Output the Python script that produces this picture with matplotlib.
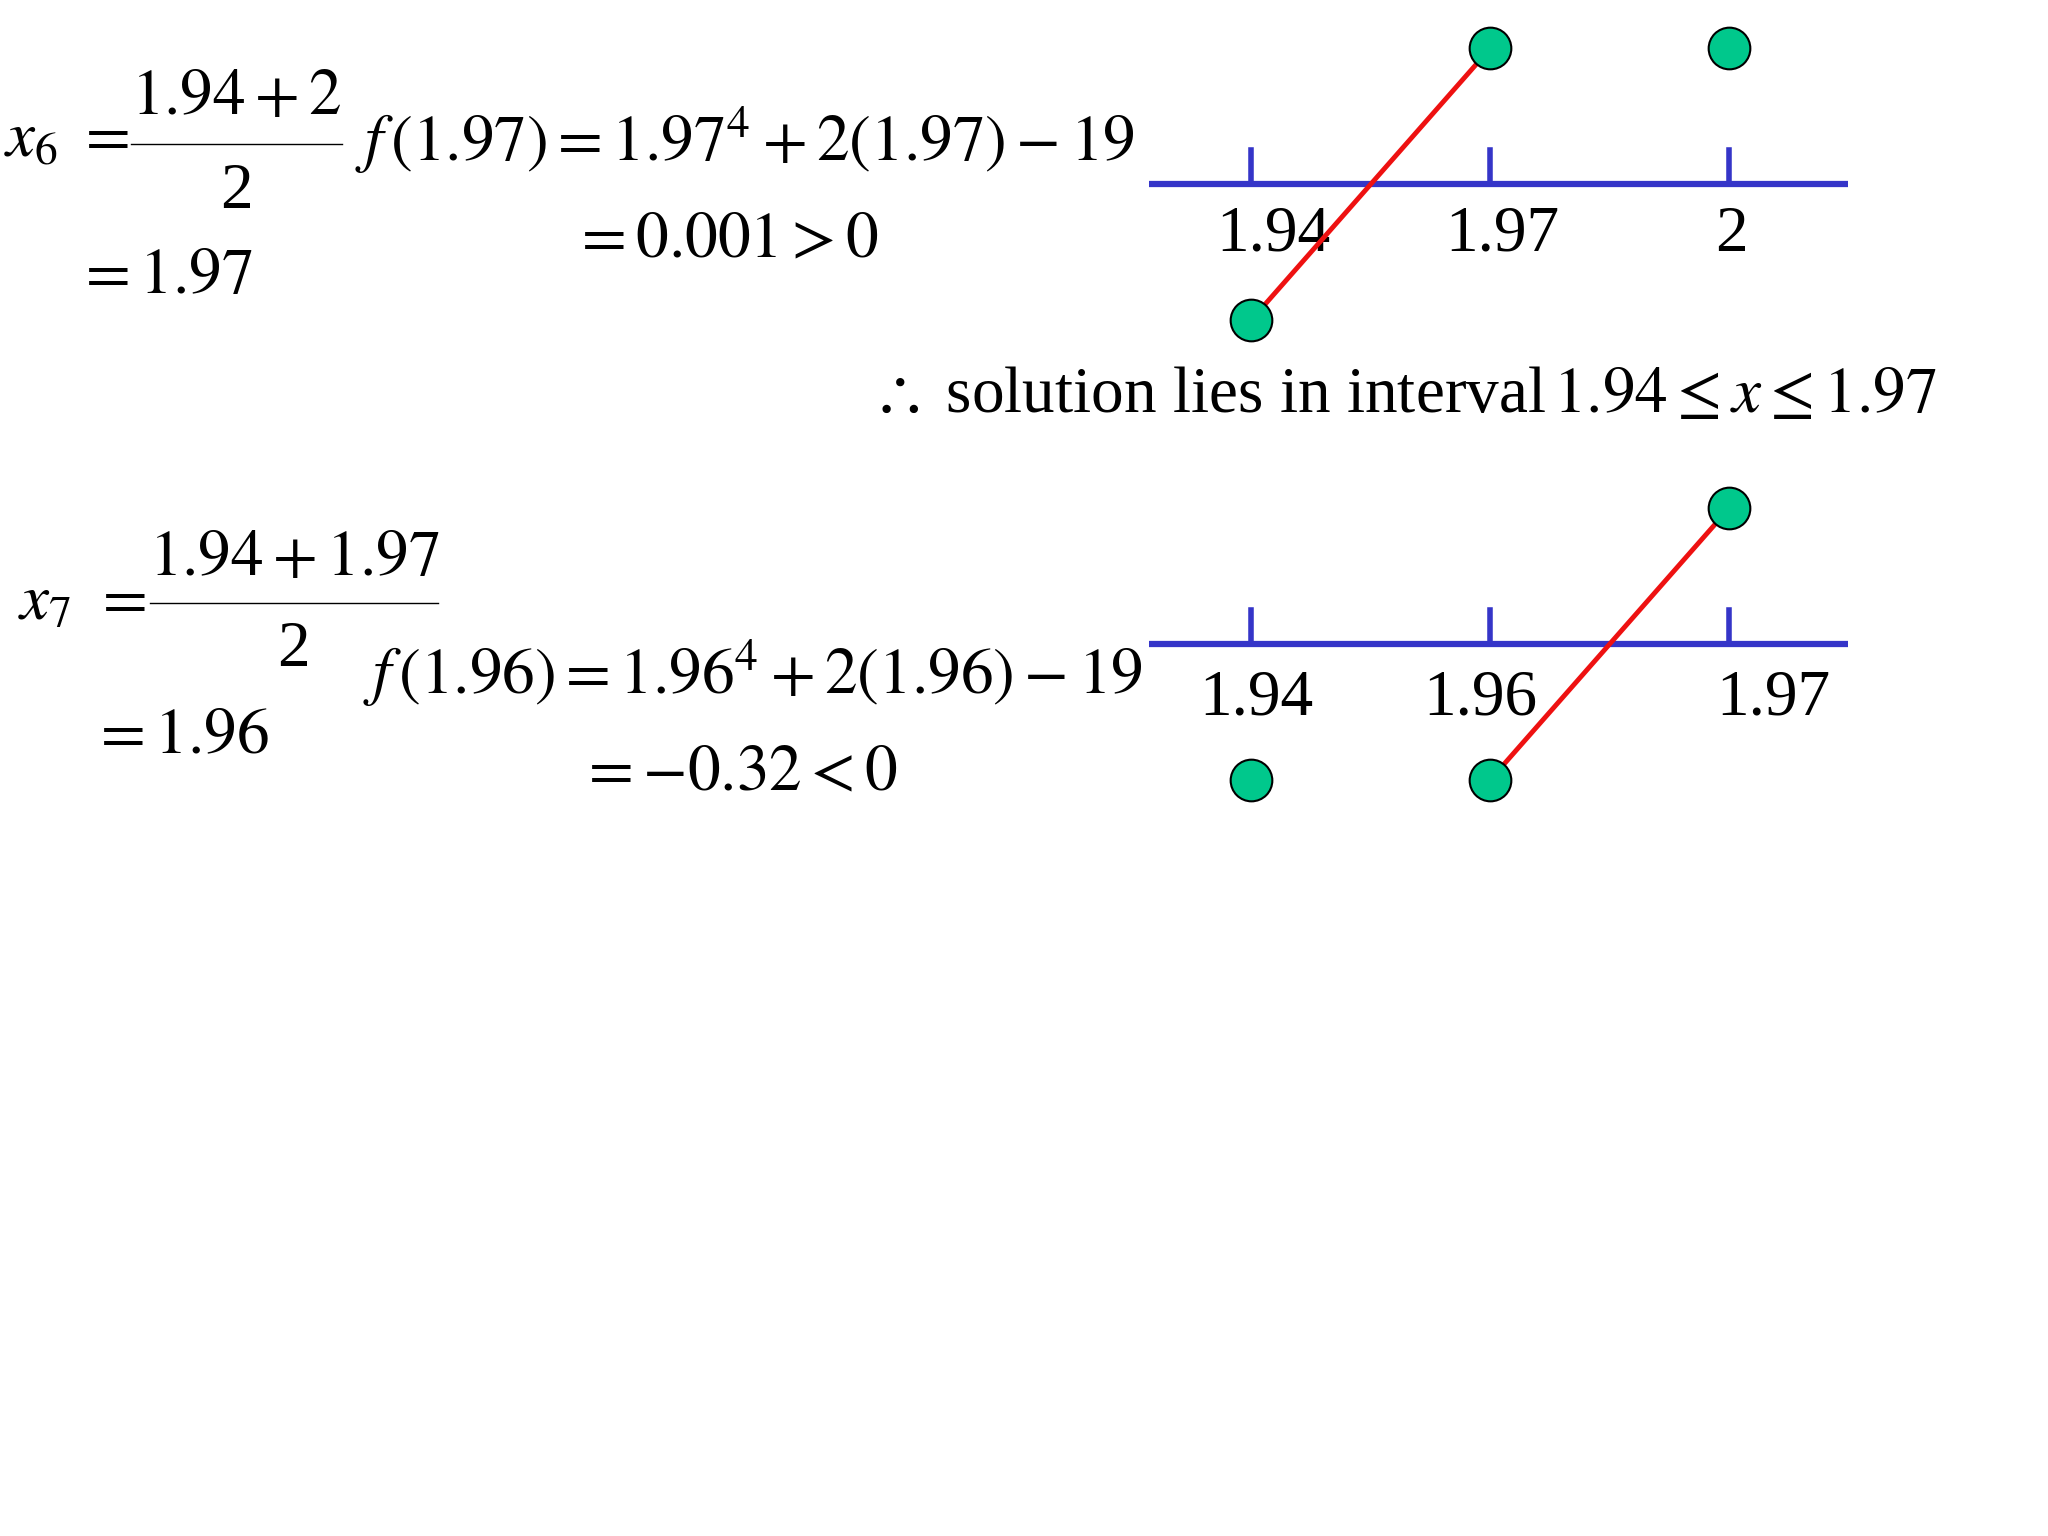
import matplotlib
matplotlib.use("Agg")
import matplotlib.pyplot as plt

plt.rcParams.update({
    "font.family": ["Liberation Serif", "DejaVu Serif"],
    "mathtext.fontset": "stix",
})

# number-line data: tick labels and sign of f at each tick (+1 above, -1 below)
top_ticks = ["1.94", "1.97", "2"]
top_signs = [-1, 1, 1]
top_label_dx = [17, 9, 2]
top_red = (0, 1)

bot_ticks = ["1.94", "1.96", "1.97"]
bot_signs = [-1, -1, 1]
bot_label_dx = [4, -8, 34]
bot_red = (1, 2)

BLUE = "#3535c8"
GREEN = "#00c88c"
RED = "#ee1111"

fig = plt.figure(figsize=(20.48, 15.36), dpi=100)
ax = fig.add_axes([0, 0, 1, 1])
ax.set_xlim(0, 1568)
ax.set_ylim(1176, 0)
ax.axis("off")

FS = 47


def number_line(y0, labels, signs, dx, red, label_y, step=183, x0=958):
    ax.plot([880, 1415], [y0, y0], color=BLUE, lw=4.5, solid_capstyle="butt", zorder=2)
    xs = [x0 + i * step for i in range(len(labels))]
    ys = [y0 - s * 104 for s in signs]
    for x in xs:
        ax.plot([x, x], [y0, y0 - 26], color=BLUE, lw=4, zorder=2)
    for x, lab, d in zip(xs, labels, dx):
        ax.text(x + d, label_y, lab, fontsize=FS, ha="center", va="center")
    i, j = red
    ax.plot([xs[i], xs[j]], [ys[i], ys[j]], color=RED, lw=3.5, zorder=3)
    ax.scatter(xs, ys, s=900, color=GREEN, edgecolor="black", linewidth=1.5, zorder=4)


def frac(xl, xr, ytop, ybar, ybot, num, den):
    xc = (xl + xr) / 2
    ax.text(xc, ytop, num, fontsize=FS, ha="center", va="center")
    ax.plot([xl, xr], [ybar, ybar], color="black", lw=1)
    ax.text(xc, ybot, den, fontsize=FS, ha="center", va="center")


# step 6
ax.text(3, 108, r"$x_6$", fontsize=FS, va="center")
ax.text(58, 106, r"$=$", fontsize=FS, va="center")
frac(100, 262, 75, 110, 147, r"$1.94 + 2$", "2")
ax.text(58, 212, r"$=1.97$", fontsize=FS, va="center")
ax.text(272, 107, r"$f\,(1.97) = 1.97^4 + 2(1.97) - 19$", fontsize=FS, va="center")
ax.text(438, 185, r"$= 0.001 > 0$", fontsize=FS, va="center")
number_line(141, top_ticks, top_signs, top_label_dx, top_red, 180)

ax.text(666, 303, r"$\therefore$ solution lies in interval$\,1.94 \leq x \leq 1.97$",
        fontsize=FS, va="center")

# step 7
ax.text(14, 462, r"$x_7$", fontsize=FS, va="center")
ax.text(71, 460, r"$=$", fontsize=FS, va="center")
frac(115, 335, 428, 462, 498, r"$1.94 + 1.97$", "2")
ax.text(70, 565, r"$=1.96$", fontsize=FS, va="center")
ax.text(278, 515, r"$f\,(1.96) = 1.96^4 + 2(1.96) - 19$", fontsize=FS, va="center")
ax.text(443, 593, r"$= -0.32 < 0$", fontsize=FS, va="center")
number_line(493, bot_ticks, bot_signs, bot_label_dx, bot_red, 535)

fig.savefig("out.png", dpi=100)
